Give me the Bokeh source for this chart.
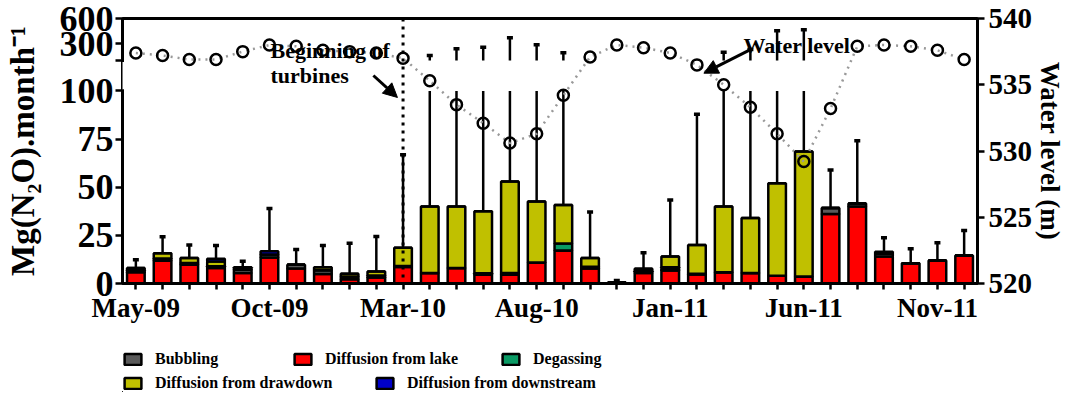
import numpy as np
from bokeh.plotting import figure
from bokeh.layouts import column
from bokeh.models import (Range1d, LinearAxis, FixedTicker, ColumnDataSource, Legend,
                          LegendItem, Arrow, NormalHead, Label, Span, BoxAnnotation)
from bokeh.embed import file_html
from bokeh.resources import INLINE

FONT = "Liberation Serif"

months = ["May-09", "Jun-09", "Jul-09", "Aug-09", "Sep-09", "Oct-09", "Nov-09", "Dec-09",
          "Jan-10", "Feb-10", "Mar-10", "Apr-10", "May-10", "Jun-10", "Jul-10", "Aug-10",
          "Sep-10", "Oct-10", "Nov-10", "Dec-10", "Jan-11", "Feb-11", "Mar-11", "Apr-11",
          "May-11", "Jun-11", "Jul-11", "Aug-11", "Sep-11", "Oct-11", "Nov-11", "Dec-11"]
labelled_months = ["May-09", "Oct-09", "Mar-10", "Aug-10", "Jan-11", "Jun-11", "Nov-11"]

# Mg(N2O) per month, stacked components
lake = [5.8, 11.8, 9.7, 8.0, 5.5, 13.5, 7.8, 4.9, 2.2, 3.1, 8.6, 5.5, 8.0, 4.5, 4.5, 10.9,
        17.2, 7.8, 0.3, 5.4, 6.7, 4.7, 5.9, 5.4, 4.0, 3.6, 36.1, 40.0, 14.0, 10.5, 11.9, 14.5]
bubbling = [1.0, 1.2, 1.0, 1.0, 1.7, 1.5, 2.0, 2.0, 1.4, 1.1, 0.5, 0.0, 0.0, 0.0, 0.0, 0.0,
            0.0, 0.9, 0.4, 1.0, 0.5, 0.3, 0.0, 0.0, 0.0, 0.0, 3.1, 1.6, 1.5, 0.0, 0.0, 0.0]
degassing = [0.0, 0.0, 0.0, 0.0, 0.0, 0.0, 0.0, 0.0, 0.0, 0.0, 0.0, 0.0, 0.0, 0.8, 1.0, 0.0,
             3.6, 0.0, 0.0, 0.0, 1.2, 0.0, 0.0, 0.0, 0.0, 0.0, 0.0, 0.0, 0.0, 0.0, 0.0, 0.0]
drawdown = [1.2, 2.7, 2.6, 2.4, 1.2, 0.0, 0.0, 1.5, 1.4, 2.0, 9.4, 34.5, 32.0, 32.2, 47.5, 31.7,
            20.0, 4.6, 0.0, 1.2, 5.6, 15.0, 34.1, 28.6, 48.0, 64.9, 0.0, 0.0, 0.0, 0.0, 0.0, 0.0]
downstream = [0.0, 0.0, 0.0, 1.4, 0.0, 1.7, 0.0, 0.0, 0.0, 0.0, 0.0, 0.0, 0.0, 0.0, 0.0, 0.0,
              0.0, 0.0, 0.0, 0.0, 0.0, 0.0, 0.0, 0.0, 0.0, 0.0, 0.0, 0.0, 1.0, 0.0, 0.0, 0.0]
# upper end of the error bars (absolute values)
err_top = [12.3, 24.3, 20.0, 19.7, 11.6, 39.0, 17.6, 19.7, 20.9, 24.4, 66.8, 160, 239, 258, 370, 287,
           192, 37.1, 1.5, 16.0, 43.4, 87.9, 199, 231, 455, 465, 58.9, 74.1, 23.7, 18.0, 21.1, 27.5]
# water level (m)
water_level = [537.4, 537.2, 536.9, 536.9, 537.5, 538.0, 537.9, 537.6, 537.5, 537.4, 537.0, 535.3,
               533.5, 532.1, 530.6, 531.3, 534.2, 537.1, 538.0, 537.8, 537.4, 536.5, 535.0, 533.3,
               531.3, 529.2, 533.2, 537.9, 538.0, 537.9, 537.6, 536.9]

left_ticks_low = [0, 25, 50, 75, 100]
left_ticks_high = [300, 600]
right_ticks = [520, 525, 530, 535, 540]

series_names = ["Bubbling", "Diffusion from lake", "Degassing", "Diffusion from drawdown",
                "Diffusion from downstream"]
colors = {"Bubbling": "#5A5A5A", "Diffusion from lake": "#FF0000", "Degassing": "#0A9A64",
          "Diffusion from drawdown": "#C0C000", "Diffusion from downstream": "#0000C8"}

# ---- broken left axis: 0-100 linear, gap, then 100-600 compressed ----
LOW_MAX = 100.0
GAP = 15.8
HIGH_SPAN = 21.8
HIGH_MAX = 600.0


def brk(v):
    v = np.asarray(v, dtype=float)
    hi = LOW_MAX + GAP + (v - LOW_MAX) / (HIGH_MAX - LOW_MAX) * HIGH_SPAN
    return np.where(v <= LOW_MAX, v, hi)


YTOP = float(brk(HIGH_MAX))
x = np.arange(len(months))
BAR_LW = 2.5

p = figure(width=1070, height=330, x_range=Range1d(-0.5, len(months) - 0.5),
           y_range=Range1d(0, YTOP), output_backend="svg", toolbar_location=None,
           min_border_left=122, min_border_right=93, min_border_top=18, min_border_bottom=47)
p.xgrid.visible = False
p.ygrid.visible = False
p.outline_line_color = "black"
p.outline_line_width = 3
p.background_fill_color = "white"
p.border_fill_color = "white"

src = ColumnDataSource(dict(x=x, lake=lake, bubbling=bubbling, degassing=degassing,
                            drawdown=drawdown, downstream=downstream))
stack_cols = ["lake", "bubbling", "degassing", "drawdown", "downstream"]
stack_names = ["Diffusion from lake", "Bubbling", "Degassing", "Diffusion from drawdown",
               "Diffusion from downstream"]
p.vbar_stack(stack_cols, x="x", width=0.66, source=src,
             fill_color=[colors[n] for n in stack_names], line_color="black", line_width=BAR_LW)

# error bars
total = np.array(lake) + np.array(bubbling) + np.array(degassing) + np.array(drawdown) + np.array(downstream)
et = np.array(err_top, dtype=float)
p.segment(x0=x, x1=x, y0=total, y1=np.minimum(et, LOW_MAX), line_color="black", line_width=2.5)
hi = et > LOW_MAX
p.segment(x0=x[hi], x1=x[hi], y0=np.full(hi.sum(), LOW_MAX + GAP), y1=brk(et[hi]),
          line_color="black", line_width=2.5)
p.scatter(x=x, y=brk(et), marker="dash", size=6, line_color="black", line_width=3.5)

# beginning of turbines
turb = months.index("Mar-10")
p.add_layout(Span(location=turb, dimension="height", line_color="black", line_width=3,
                  line_dash="3 5"))

# water level
p.extra_y_ranges = {"wl": Range1d(520, 540)}
p.line(x, water_level, y_range_name="wl", line_color="#999999", line_width=2.5, line_dash="2 5")
p.scatter(x, water_level, y_range_name="wl", marker="circle", size=11, fill_color=None,
          line_color="black", line_width=2.5)


def style_axis(ax, label_size):
    ax.axis_line_width = 3
    ax.axis_line_color = "black"
    ax.major_tick_line_width = 2.5
    ax.major_tick_line_color = "black"
    ax.major_tick_out = 7
    ax.major_tick_in = 0
    ax.minor_tick_line_color = None
    ax.major_label_text_font = FONT
    ax.major_label_text_font_style = "bold"
    ax.major_label_text_font_size = label_size
    ax.major_label_text_color = "black"
    ax.axis_label_text_font = FONT
    ax.axis_label_text_font_style = "bold"
    ax.axis_label_text_color = "black"


ly = p.yaxis[0]
brk_mark = float(brk(LOW_MAX + 1e-9))
lt = [float(v) for v in left_ticks_low] + [brk_mark] + [float(brk(v)) for v in left_ticks_high]
ly.ticker = FixedTicker(ticks=lt)
ov = {float(v): str(v) for v in left_ticks_low}
ov[brk_mark] = ""
for v in left_ticks_high:
    ov[float(brk(v))] = str(v)
ly.major_label_overrides = ov
style_axis(ly, "36px")
ly.major_label_standoff = 2
ly.axis_label = "Mg(N\u2082O).month\u207b\u00b9"
ly.axis_label_text_font_size = "33px"
ly.axis_label_standoff = 16

# axis break: thin grey line where the left scale is interrupted
px_unit = 1.0 / 26.72
p.add_layout(BoxAnnotation(left=-0.5 - 2.2 * px_unit, right=-0.5 + 2.2 * px_unit,
                           bottom=LOW_MAX + 0.8, top=LOW_MAX + GAP - 0.8,
                           fill_color="white", fill_alpha=1, line_color=None, level="overlay"))
p.add_layout(BoxAnnotation(left=-0.5 - 0.5 * px_unit, right=-0.5 + 0.5 * px_unit,
                           bottom=LOW_MAX + 0.8, top=LOW_MAX + GAP - 0.8,
                           fill_color="#777777", fill_alpha=1, line_color=None, level="overlay"))

bx = p.xaxis[0]
bx.ticker = FixedTicker(ticks=list(range(len(months))))
bx.major_label_overrides = {i: (m if m in labelled_months else "") for i, m in enumerate(months)}
style_axis(bx, "27px")
bx.major_tick_out = 6
bx.major_label_standoff = 3

ry = LinearAxis(y_range_name="wl", ticker=FixedTicker(ticks=right_ticks),
                axis_label="Water level (m)")
style_axis(ry, "29px")
ry.major_tick_out = 7
ry.major_label_standoff = 4
ry.axis_label_text_font_size = "27px"
ry.axis_label_standoff = 0
p.add_layout(ry, "right")

# annotations
for txt, xx, yy in [("Beginning of", 5.04, 121.0), ("turbines", 5.04, 108.0),
                    ("Water level", 22.74, 123.6)]:
    p.add_layout(Label(x=xx, y=yy, text=txt, text_font=FONT, text_font_style="bold",
                       text_font_size="22px", text_color="black", text_baseline="alphabetic"))
for xs, ys, xe, ye in [(8.89, 108.0, 9.79, 96.6), (23.0, 121.4, 21.26, 109.2)]:
    p.add_layout(Arrow(end=NormalHead(size=14, fill_color="black", line_color="black"),
                       x_start=xs, y_start=ys, x_end=xe, y_end=ye, line_width=3,
                       line_color="black"))

# ---- legend strip below the chart (its frame is aligned with the chart frame) ----
LEG_H = 62
q = figure(width=1070, height=LEG_H, x_range=Range1d(0, 1), y_range=Range1d(0, 1),
           output_backend="svg", toolbar_location=None, x_axis_type=None, y_axis_type=None,
           min_border=0)
q.outline_line_color = None
q.xgrid.visible = False
q.ygrid.visible = False
legend_pos = {"Bubbling": (0, 24), "Diffusion from lake": (170, 24), "Degassing": (378, 24),
              "Diffusion from drawdown": (0, 0), "Diffusion from downstream": (252, 0)}
for name in series_names:
    # proxy renderer (outside the visible range) that carries the series style
    r = q.vbar(x=[-10], top=[-10], bottom=[-11], width=0.1, fill_color=colors[name],
               line_color="black", line_width=BAR_LW)
    lg = Legend(items=[LegendItem(label=name, renderers=[r])], location=legend_pos[name],
                orientation="horizontal", glyph_width=21, glyph_height=14, label_height=14,
                label_standoff=12, padding=0, margin=0, border_line_color=None,
                background_fill_alpha=0, label_text_font=FONT, label_text_font_style="bold",
                label_text_font_size="16px", label_text_color="black")
    q.add_layout(lg)

open("out.html", "w").write(file_html(column(p, q), INLINE))
